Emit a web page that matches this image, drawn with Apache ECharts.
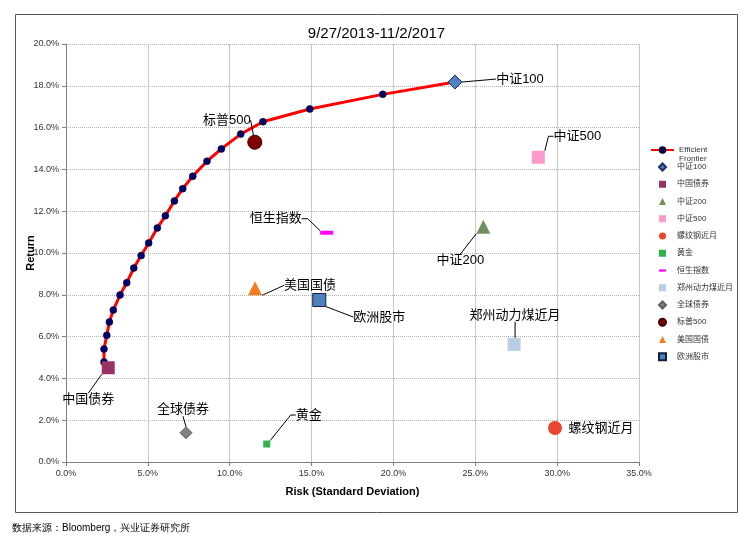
<!DOCTYPE html>
<html>
<head>
<meta charset="utf-8">
<script src="https://cdn.jsdelivr.net/npm/echarts@6/dist/echarts.min.js"></script>
<style>
html, body { margin: 0; padding: 0; background: #fff; }
#chart { width: 753px; height: 543px; }
</style>
</head>
<body>
<div id="chart"></div>
<script>
// 有效前沿：风险(%) / 收益(%)
var frontierRisk = [2.32, 2.32, 2.49, 2.65, 2.89, 3.30, 3.71, 4.14, 4.59, 5.05, 5.58, 6.07, 6.62, 7.13, 7.74, 8.61, 9.49, 10.67, 12.03, 14.89, 19.35, 23.76];
var frontierReturn = [4.78, 5.41, 6.06, 6.70, 7.27, 7.99, 8.58, 9.28, 9.88, 10.48, 11.20, 11.78, 12.49, 13.08, 13.67, 14.39, 14.98, 15.69, 16.28, 16.89, 17.59, 18.18];

// 各类资产
var assetNames = ['中证100', '中国债券', '中证200', '中证500', '螺纹钢近月', '黄金', '恒生指数', '郑州动力煤近月', '全球债券', '标普500', '美国国债', '欧洲股市'];
var assetRisk = [23.76, 2.58, 25.49, 28.85, 29.87, 12.26, 15.92, 27.37, 7.33, 11.53, 11.55, 15.47];
var assetReturn = [18.18, 4.51, 11.26, 14.58, 1.63, 0.86, 10.97, 5.63, 1.40, 15.30, 8.31, 7.75];

// 坐标轴刻度
var xAxisMin = 0, xAxisMax = 35, xAxisStep = 5;
var yAxisMin = 0, yAxisMax = 20, yAxisStep = 2;

// 样式 (符号、颜色、标注偏移)
var assetStyle = {
  '中证100':      { symbol: 'diamond',  size: 14, color: '#4F81BD', border: '#1F2F5F', dx: 65, dy: -3 },
  '中国债券':     { symbol: 'rect',     size: 13, color: '#993366', border: null, dx: -20, dy: 32 },
  '中证200':      { symbol: 'triangle', size: 14, color: '#74905F', border: null, dx: -23, dy: 34 },
  '中证500':      { symbol: 'rect',     size: 13, color: '#FF99CC', border: null, dx: 39, dy: -21, len2: 5 },
  '螺纹钢近月':   { symbol: 'circle',   size: 14, color: '#E9462F', border: null, dx: 46, dy: 0, noLine: true },
  '黄金':         { symbol: 'rect',     size: 7,  color: '#2EB24A', border: null, dx: 42, dy: -29, len2: 5 },
  '恒生指数':     { symbol: 'rect',     size: [13, 4], color: '#FF00FF', border: null, dx: -51, dy: -14, len2: 6,
                    icon: 'path://M0,0h7v2.2h-7z' },
  '郑州动力煤近月': { symbol: 'rect',   size: 13, color: '#B9CDE5', border: null, dx: 1, dy: -29 },
  '全球债券':     { symbol: 'diamond',  size: 12, color: '#808080', border: '#606060', dx: -3, dy: -23 },
  '标普500':      { symbol: 'circle',   size: 14, color: '#800000', border: '#400000', dx: -28, dy: -22 },
  '美国国债':     { symbol: 'triangle', size: 14, color: '#F57C1F', border: null, dx: 55, dy: -3 },
  '欧洲股市':     { symbol: 'rect',     size: 13, color: '#4F81BD', border: '#0F1F3F', dx: 60, dy: 17 }
};

var fontLatin = 'Liberation Sans, Arial, Noto Sans CJK SC';

var mySeries = [];
mySeries.push({
  name: 'Efficient Frontier',
  type: 'line',
  data: frontierRisk.map(function (r, i) { return [r, frontierReturn[i]]; }),
  symbol: 'circle',
  symbolSize: 7,
  showAllSymbol: true,
  lineStyle: { color: '#FF0000', width: 3 },
  itemStyle: { color: '#000066', borderColor: '#000033', borderWidth: 0.5 },
  z: 3,
  silent: true,
  animation: false
});

assetNames.forEach(function (name, i) {
  var s = assetStyle[name];
  mySeries.push({
    name: name,
    type: 'scatter',
    data: [[assetRisk[i], assetReturn[i]]],
    symbol: s.symbol,
    symbolSize: s.size,
    itemStyle: {
      color: s.color,
      borderColor: s.border || s.color,
      borderWidth: s.border ? 1 : 0,
      opacity: 1
    },
    label: {
      show: true,
      position: 'inside',
      formatter: name,
      color: '#000',
      fontSize: 13,
      fontFamily: fontLatin
    },
    labelLayout: { dx: s.dx, dy: s.dy },
    labelLine: {
      show: !s.noLine,
      length2: s.len2 || 0,
      lineStyle: { color: '#000', width: 1 }
    },
    z: 4,
    silent: true,
    animation: false
  });
});

// 图例数据 (小图标)
var legendAssets = assetNames.map(function (name) {
  var s = assetStyle[name];
  return s.icon ? { name: name, icon: s.icon } : { name: name };
});

var myChart = echarts.init(document.getElementById('chart'));

var option = {
  backgroundColor: '#fff',
  animation: false,
  title: {
    text: '9/27/2013-11/2/2017',
    left: 'center',
    top: 21,
    textStyle: { fontSize: 15, fontWeight: 'normal', color: '#000', fontFamily: fontLatin }
  },
  grid: { left: 66, right: 114, top: 44, bottom: 81 },
  legend: [{
    data: ['Efficient Frontier'],
    left: 650,
    top: 136.5,
    padding: 0,
    itemWidth: 23,
    itemHeight: 7,
    formatter: function () { return ' \nEfficient\nFrontier'; },
    textStyle: { fontSize: 8, lineHeight: 9, color: '#333', fontFamily: fontLatin },
    selectedMode: false
  }, {
    data: legendAssets,
    orient: 'vertical',
    left: 658,
    top: 162.5,
    padding: 0,
    itemWidth: 7,
    itemHeight: 7,
    itemGap: 8.25,
    symbolKeepAspect: true,
    textStyle: { fontSize: 8, lineHeight: 9, color: '#333', fontFamily: fontLatin, padding: [0, 0, 0, 6] },
    selectedMode: false
  }],
  xAxis: {
    type: 'value',
    min: xAxisMin,
    max: xAxisMax,
    interval: xAxisStep,
    name: 'Risk (Standard Deviation)',
    nameLocation: 'middle',
    nameGap: 24,
    nameMoveOverlap: false,
    nameTextStyle: { fontSize: 11, fontWeight: 'bold', color: '#000', fontFamily: fontLatin },
    axisLine: { lineStyle: { color: '#808080', width: 1 } },
    axisTick: { show: true, length: 4, lineStyle: { color: '#808080' } },
    axisLabel: {
      fontSize: 9, color: '#333', margin: 7, fontFamily: fontLatin,
      formatter: function (v) { return v.toFixed(1) + '%'; }
    },
    splitLine: { show: true, lineStyle: { color: '#C8C8C8', width: 1 } }
  },
  yAxis: {
    type: 'value',
    min: yAxisMin,
    max: yAxisMax,
    interval: yAxisStep,
    name: 'Return',
    nameLocation: 'middle',
    nameRotate: 90,
    nameGap: 30,
    nameMoveOverlap: false,
    nameTextStyle: { fontSize: 11, fontWeight: 'bold', color: '#000', fontFamily: fontLatin },
    axisLine: { show: true, lineStyle: { color: '#808080', width: 1 } },
    axisTick: { show: true, length: 4, lineStyle: { color: '#808080' } },
    axisLabel: {
      fontSize: 9, color: '#333', margin: 7, fontFamily: fontLatin,
      formatter: function (v) { return v.toFixed(1) + '%'; }
    },
    splitLine: { show: true, lineStyle: { color: '#B0B0B0', width: 1, type: [1, 1] } }
  },
  graphic: [{
    type: 'rect',
    shape: { x: 15.5, y: 14.5, width: 722, height: 498 },
    style: { fill: 'none', stroke: '#555', lineWidth: 1 },
    silent: true
  }, {
    type: 'text',
    left: 12,
    top: 523,
    style: { text: '数据来源：Bloomberg，兴业证券研究所', fontSize: 10, fill: '#000', font: '10px Liberation Sans, Noto Sans CJK SC' },
    silent: true
  }],
  series: mySeries
};

myChart.setOption(option);
</script>
</body>
</html>
